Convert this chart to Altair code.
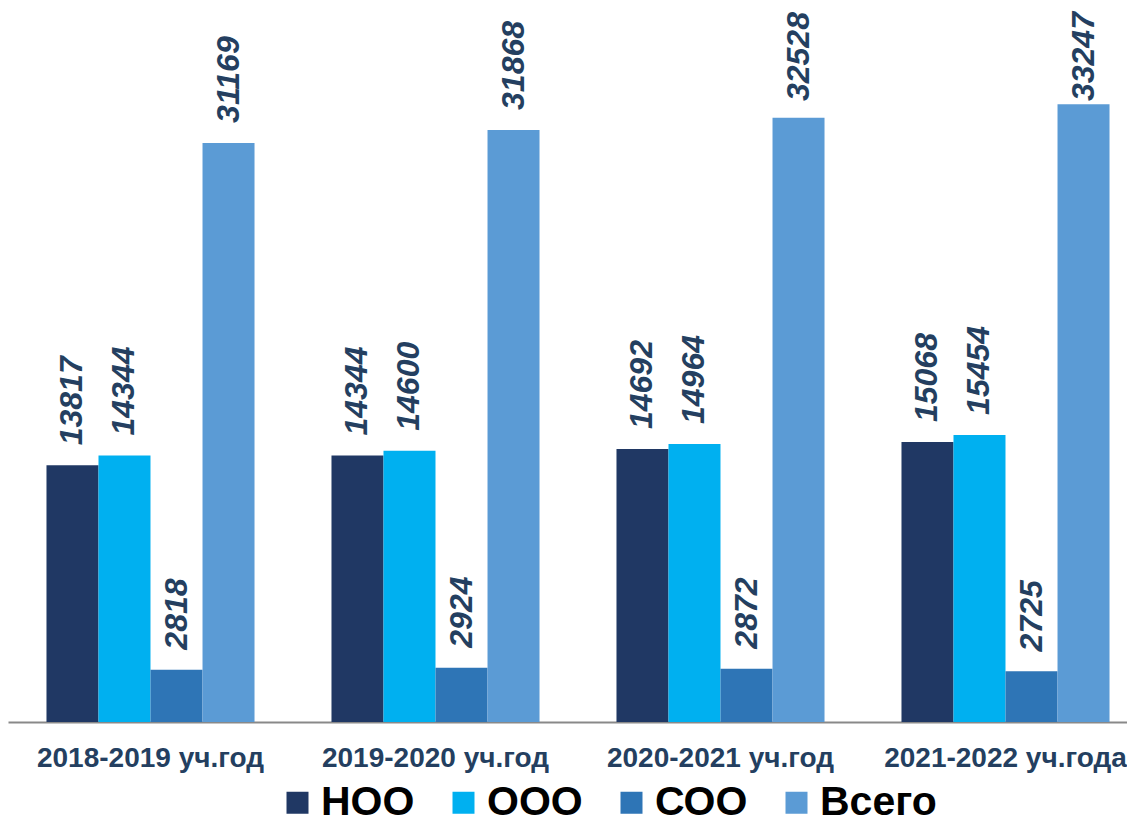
import altair as alt
import pandas as pd

years = ["2018-2019 уч.год", "2019-2020 уч.год", "2020-2021 уч.год", "2021-2022 уч.года"]
series = ["НОО", "ООО", "СОО", "Всего"]
noo = [13817, 14344, 14692, 15068]
ooo = [14344, 14600, 14964, 15454]
soo = [2818, 2924, 2872, 2725]
total = [31169, 31868, 32528, 33247]
colors = ["#203864", "#00B0F0", "#2E75B6", "#5B9BD5"]

rows = []
for i, y in enumerate(years):
    for s, vals in zip(series, [noo, ooo, soo, total]):
        rows.append({"year": y, "series": s, "value": vals[i]})
df = pd.DataFrame(rows)

FONT = "Liberation Sans"
NAVY = "#243F60"
YMAX = 38430
GAP_UNITS = 1076      # ~20 px gap between bar top and label
LABEL_CAP = 33423     # keep the tallest labels inside the top edge

x = alt.X("year:N", sort=years, title=None,
          scale=alt.Scale(range=[0, 1140], paddingInner=0.27, paddingOuter=0.135),
          axis=alt.Axis(labelAngle=0, labelFont=FONT, labelFontSize=28, labelFontWeight="bold",
                        labelColor=NAVY, labelPadding=22, ticks=False, domainColor="#898989",
                        domainWidth=2, labelLimit=400))
xo = alt.XOffset("series:N", sort=series, scale=alt.Scale(paddingInner=0, paddingOuter=0))
yscale = alt.Scale(domain=[0, YMAX], nice=False, zero=True)
y = alt.Y("value:Q", axis=None, scale=yscale)

base = alt.Chart(df)
bars = base.mark_bar(size=52).encode(
    x=x, xOffset=xo, y=y,
    color=alt.Color("series:N", sort=series, scale=alt.Scale(domain=series, range=colors),
                    legend=alt.Legend(title=None, orient="none", legendX=269, legendY=774,
                                      direction="horizontal", columns=4, symbolType="square",
                                      symbolSize=484, symbolStrokeWidth=0, symbolOpacity=1,
                                      labelFont=FONT, labelFontSize=41, labelFontWeight="bold",
                                      labelColor="#000000", columnPadding=28, labelOffset=3,
                                      padding=0, labelLimit=300)),
)
labels = base.transform_calculate(
    labelpos=f"min(datum.value + {GAP_UNITS}, {LABEL_CAP})"
).mark_text(angle=270, align="left", baseline="middle",
            font=FONT, fontSize=32, fontWeight="bold", fontStyle="italic",
            color=NAVY).encode(
    x=x, xOffset=xo,
    y=alt.Y("labelpos:Q", axis=None, scale=yscale),
    text=alt.Text("value:Q", format="d"),
)

chart = (bars + labels).properties(
    width=1119, height=714,
    autosize=alt.AutoSizeParams(type="none"),
    padding={"left": 0, "top": 0, "right": 0, "bottom": 98},
).configure_view(stroke=None)

chart.save("out.html", embed_options={"renderer": "svg", "actions": False})
